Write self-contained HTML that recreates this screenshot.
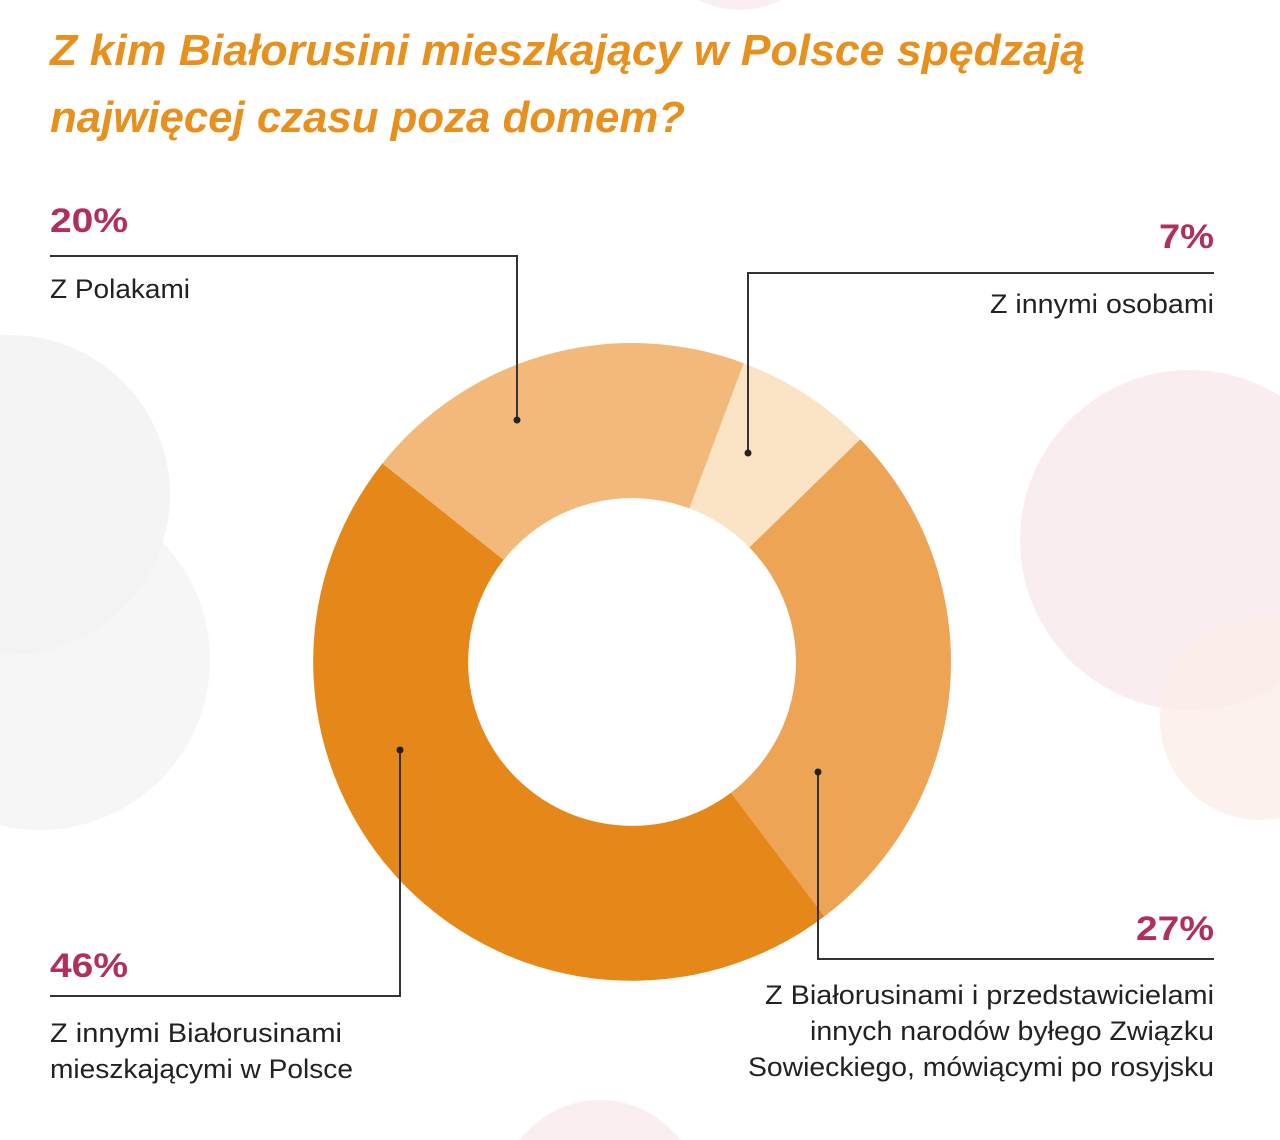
<!DOCTYPE html>
<html><head><meta charset="utf-8"><style>html,body{margin:0;padding:0;background:#fff;overflow:hidden;width:1280px;height:1140px}svg{display:block}</style></head>
<body>
<svg width="1280" height="1140" viewBox="0 0 1280 1140" xmlns="http://www.w3.org/2000/svg" style="overflow:hidden">
<rect width="1280" height="1140" fill="#fff"/>
<circle cx="10" cy="495" r="160" fill="#f1f1f1" opacity="0.8"/>
<circle cx="40" cy="660" r="170" fill="#f2f2f2" opacity="0.7"/>
<circle cx="1190" cy="540" r="170" fill="#f9e9ec" opacity="0.8"/>
<circle cx="1260" cy="720" r="100" fill="#fbeee8" opacity="0.8"/>
<circle cx="600" cy="1200" r="100" fill="#fbeef0"/>
<circle cx="740" cy="-80" r="90" fill="#fbeef0"/>
<g font-family="Liberation Sans, sans-serif">
<text x="50" y="65" font-size="44" font-weight="bold" font-style="italic" fill="#e8901e" textLength="1035" lengthAdjust="spacingAndGlyphs">Z kim Białorusini mieszkający w Polsce spędzają</text>
<text x="50" y="132" font-size="44" font-weight="bold" font-style="italic" fill="#e8901e" textLength="635" lengthAdjust="spacingAndGlyphs">najwięcej czasu poza domem?</text>
</g>
<path d="M743.7,363.2 A319,319 0 0 1 860.3,439.2 L749.4,547.5 A164,164 0 0 0 689.4,508.4 Z" fill="#fbe3c6"/>
<path d="M860.3,439.2 A319,319 0 0 1 824.4,916.4 L730.9,792.8 A164,164 0 0 0 749.4,547.5 Z" fill="#eda455"/>
<path d="M824.4,916.4 A319,319 0 0 1 382.4,463.4 L503.7,559.9 A164,164 0 0 0 730.9,792.8 Z" fill="#e6871a"/>
<path d="M382.4,463.4 A319,319 0 0 1 743.7,363.2 L689.4,508.4 A164,164 0 0 0 503.7,559.9 Z" fill="#f2b97a"/>
<g stroke="#333" stroke-width="2" fill="none">
<polyline points="50,256 517,256 517,420"/>
<polyline points="1214,273 748,273 748,453"/>
<polyline points="50,996 400,996 400,750"/>
<polyline points="1214,959 818,959 818,772"/>
</g>
<g fill="#222"><circle cx="517" cy="420" r="3.5"/><circle cx="748" cy="453" r="3.5"/><circle cx="400" cy="750" r="3.5"/><circle cx="818" cy="772" r="3.5"/></g>
<g font-family="Liberation Sans, sans-serif" font-weight="bold" font-size="34" fill="#b0305a">
<text x="50" y="232" textLength="78" lengthAdjust="spacingAndGlyphs">20%</text>
<text x="1214" y="248" text-anchor="end" textLength="55" lengthAdjust="spacingAndGlyphs">7%</text>
<text x="50" y="977" textLength="78" lengthAdjust="spacingAndGlyphs">46%</text>
<text x="1214" y="940" text-anchor="end" textLength="78" lengthAdjust="spacingAndGlyphs">27%</text>
</g>
<g font-family="Liberation Sans, sans-serif" font-size="27" fill="#222">
<text x="50" y="298" textLength="140" lengthAdjust="spacingAndGlyphs">Z Polakami</text>
<text x="1214" y="313" text-anchor="end" textLength="224" lengthAdjust="spacingAndGlyphs">Z innymi osobami</text>
<text x="50" y="1042" textLength="292" lengthAdjust="spacingAndGlyphs">Z innymi Białorusinami</text>
<text x="50" y="1078" textLength="303" lengthAdjust="spacingAndGlyphs">mieszkającymi w Polsce</text>
<text x="1214" y="1004" text-anchor="end" textLength="449" lengthAdjust="spacingAndGlyphs">Z Białorusinami i przedstawicielami</text>
<text x="1214" y="1040" text-anchor="end" textLength="404" lengthAdjust="spacingAndGlyphs">innych narodów byłego Związku</text>
<text x="1214" y="1076" text-anchor="end" textLength="466" lengthAdjust="spacingAndGlyphs">Sowieckiego, mówiącymi po rosyjsku</text>
</g>
</svg>
</body></html>
